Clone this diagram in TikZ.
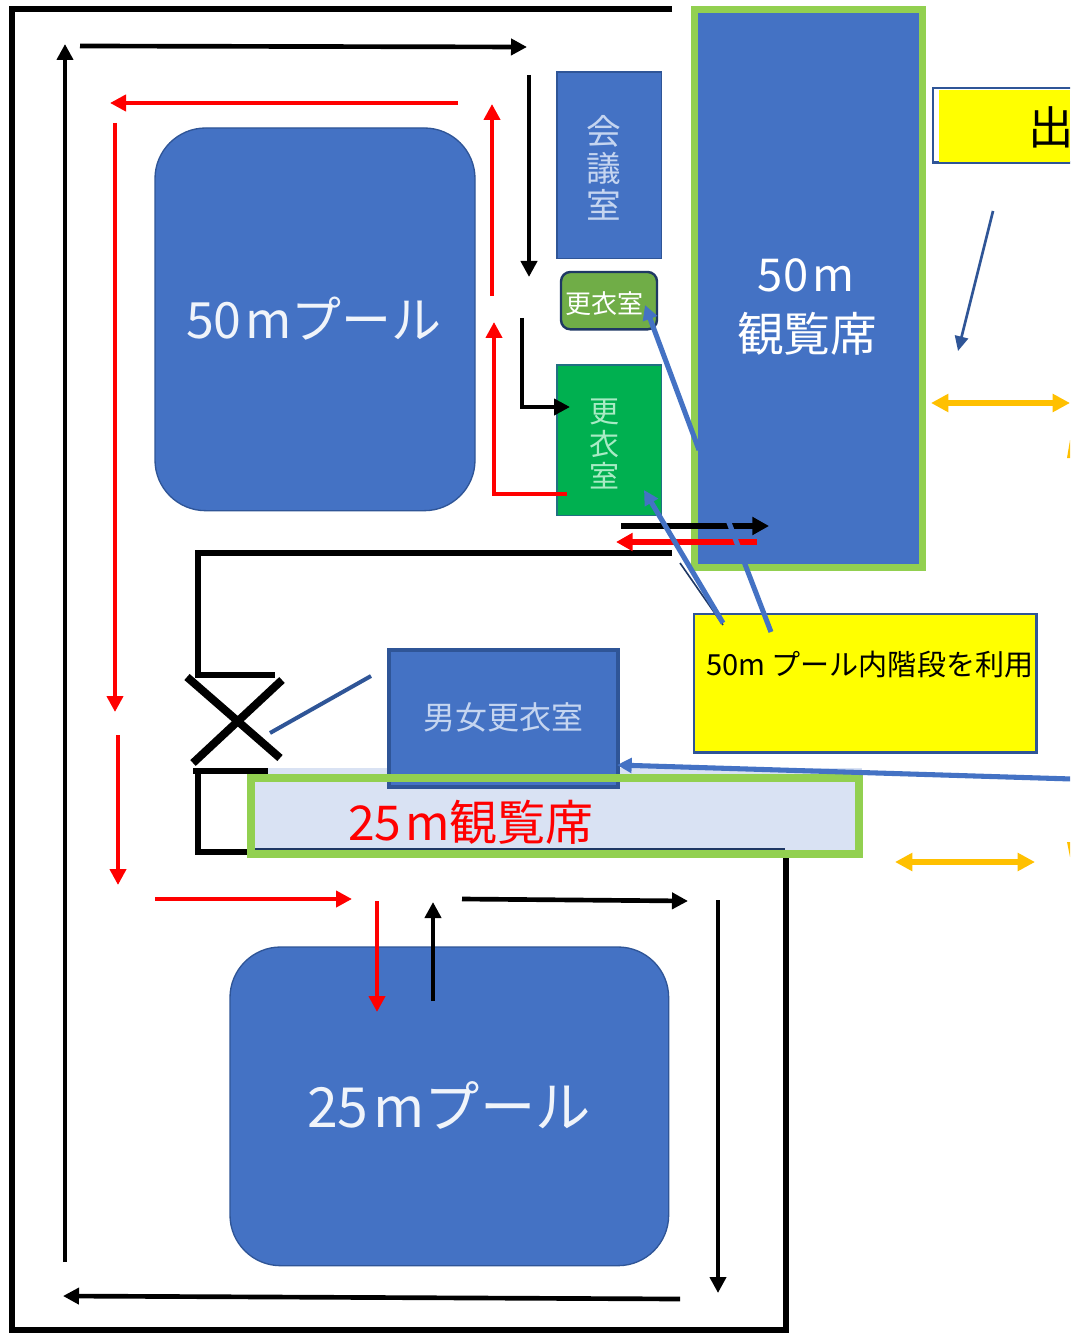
\documentclass[tikz,border=0pt]{standalone}
\usepackage{fontspec}
\setmainfont{Noto Sans CJK JP}
\usetikzlibrary{arrows.meta}
\definecolor{poolblue}{HTML}{4472C4}
\definecolor{darkblue}{HTML}{2F5597}
\definecolor{framegreen}{HTML}{92D050}
\definecolor{roomgreen}{HTML}{00B050}
\definecolor{olivegreen}{HTML}{70AD47}
\definecolor{navy}{HTML}{1F3864}
\definecolor{pale}{HTML}{D9E2F3}
\definecolor{orangeline}{HTML}{FFC000}
\definecolor{softblue}{HTML}{C5D5F0}
\definecolor{softgreen}{HTML}{A8EBC4}
\definecolor{notey}{HTML}{FFFF00}
\newcommand{\fs}[1]{\fontsize{#1}{#1}\selectfont}
\tikzset{
  x=0.75pt,y=-0.75pt,
  every node/.style={outer sep=0pt},
  wall/.style={draw=black,line width=4.8pt},
  inner/.style={draw=black,line width=5pt},
  blackarrow/.style={draw=black,line width=3.5pt,-{Triangle[length=12pt,width=12pt]}},
  redarrow/.style={draw=red,line width=3.5pt,-{Triangle[length=12pt,width=12pt]}},
  bluearrow/.style={draw=poolblue,line width=3.8pt,-{Triangle[length=11pt,width=11pt]}},
  blueline/.style={draw=poolblue,line width=3.8pt},
  orangearrow/.style={draw=orangeline,line width=4.2pt,{Triangle[length=13pt,width=13pt]}-{Triangle[length=13pt,width=13pt]}},
  room/.style={fill=poolblue,draw=darkblue,line width=1pt,inner sep=0pt,anchor=north west},
  pool/.style={fill=poolblue,draw=darkblue,line width=1pt,rounded corners=38pt,inner sep=0pt,anchor=north west},
  label/.style={inner sep=0pt,align=center},
}
\begin{document}
\begin{tikzpicture}
\useasboundingbox (0,0) rectangle (1070,1333);
\clip (0,0) rectangle (1070,1333);
\fill[white] (0,0) rectangle (1070,1333);

% walls
\draw[wall,line join=miter] (672,9) -- (12,9) -- (12,1330) -- (786,1330) -- (786,852);
\draw[inner,line join=miter] (672,553) -- (198,553) -- (198,675) -- (275,675);
\draw[inner] (193,771) -- (268,771);
\draw[inner,line join=miter] (198,771) -- (198,852) -- (255,852);
\draw[draw=black,line width=6pt] (187,677) -- (280,758);
\draw[draw=black,line width=6pt] (193,763) -- (282,680);
\draw[draw=darkblue,line width=3pt] (270,733) -- (371,676);

% pools
\node[pool,minimum width=240pt,minimum height=287pt] (pool50) at (155,128) {};
\node[pool,minimum width=329pt,minimum height=239pt] (pool25) at (230,947) {};
\node[label,text=white!92!poolblue] at (314,319) {\fs{37.5}50\hspace{3pt}mプール};
\node[label,text=white!92!poolblue] at (449,1105) {\fs{41.5}25\hspace{4pt}mプール};

% rooms
\node[room,minimum width=78.5pt,minimum height=140pt] (meeting) at (557,72) {};
\node[label,text=softblue,font=\fontsize{26}{27.5}\selectfont] at (604,168) {会\\議\\室};
\node[fill=olivegreen,draw=navy,line width=1.8pt,rounded corners=7pt,inner sep=0pt,anchor=north west,minimum width=72pt,minimum height=43pt] (lockerA) at (561,272) {};
\node[label,text=white] at (604,304) {\fs{19.5}更衣室};
\node[fill=roomgreen,draw=darkblue!70!roomgreen,line width=1pt,inner sep=0pt,anchor=north west,minimum width=78.5pt,minimum height=113pt] (lockerB) at (557,365) {};
\node[label,text=softgreen,font=\fontsize{22.5}{24.5}\selectfont] at (604,444) {更\\衣\\室};

% red and black routes
\draw[blackarrow] (80,46) -- (527,47);
\draw[blackarrow] (65,1262) -- (65,44);
\draw[blackarrow] (529,75) -- (529,277);
\draw[blackarrow] (522,318) -- (522,407) -- (570,407);
\draw[blackarrow] (462,899) -- (688,901);
\draw[blackarrow] (718,900) -- (718,1293);
\draw[blackarrow] (680,1299) -- (63,1296);
\draw[blackarrow] (433,1001) -- (433,902);
\draw[redarrow] (458,103) -- (110,103);
\draw[redarrow] (115,123) -- (115,712);
\draw[redarrow] (118,735) -- (118,885);
\draw[redarrow] (155,899) -- (352,899);
\draw[redarrow] (377,901) -- (377,1012);
\draw[redarrow] (492,296) -- (492,104);
\draw[redarrow] (567,494) -- (494,494) -- (494,322);

% 50 m stand
\node[fill=poolblue,draw=framegreen,line width=5.4pt,inner sep=0pt,anchor=north west,minimum width=171pt,minimum height=418.5pt] (stand50) at (694.5,9.5) {};
\node[label,text=white] at (806,275) {\fs{34}50\hspace{3pt}m};
\node[label,text=white] at (807,334) {\fs{35}観覧席};
\draw[bluearrow] (699,450) -- (645,305);

% crossing arrows
\draw[draw=black,line width=4.5pt,-{Triangle[length=12.5pt,width=13pt]}] (621,526) -- (769,526);
\draw[draw=red,line width=4.5pt,-{Triangle[length=12.5pt,width=13pt]}] (757,542) -- (616,542);

% changing room and 25 m stand
\fill[pale] (268,768) rectangle (862,776);
\fill[pale] (251,778) rectangle (859,854);
\node[room,draw=darkblue,line width=3pt,minimum width=171.5pt,minimum height=103pt] (mixed) at (389,650) {};
\node[label,text=softblue] at (503,717) {\fs{24}男女更衣室};
\draw[draw=navy,line width=1pt] (255,849) -- (785,849);
\node[draw=framegreen,line width=6pt,inner sep=0pt,anchor=north west,minimum width=456pt,minimum height=57pt] (stand25) at (251,778) {};
\node[label,text=red] at (471,822) {\fs{36}25\hspace{3pt}m観覧席};

% notes
\node[fill=notey,draw=darkblue,line width=2pt,inner sep=0pt,anchor=north west,minimum width=257pt,minimum height=104pt] (note) at (694,614) {};
\node[inner sep=0pt,anchor=west,text=black] at (706,665) {\fs{21.8}50m プール内階段を利用};
\node[fill=white,draw=darkblue,line width=1.8pt,inner sep=0pt,anchor=north west,minimum width=120pt,minimum height=56pt] (topnote) at (933,88) {};
\fill[notey] (939,90) rectangle (1070,162);
\node[label,text=black] at (1051,127) {\fs{34}出};

% leaders
\draw[draw=navy,line width=1.2pt] (680,563) -- (723,625);
\draw[bluearrow] (723,623) -- (644,490);
\draw[blueline] (771,632) -- (728,520);
\draw[bluearrow] (1072,779) -- (617,765);
\draw[draw=darkblue,line width=2pt,-{Triangle[length=11pt,width=10pt]}] (993,211) -- (958,351);
\draw[orangearrow] (931,403) -- (1070,403);
\draw[orangearrow] (895,862) -- (1035,862);
\fill[orangeline] (1067,458) -- (1070,440) -- (1070,458) -- cycle;
\fill[orangeline] (1067,842) -- (1070,842) -- (1070,857) -- cycle;
\end{tikzpicture}
\end{document}
